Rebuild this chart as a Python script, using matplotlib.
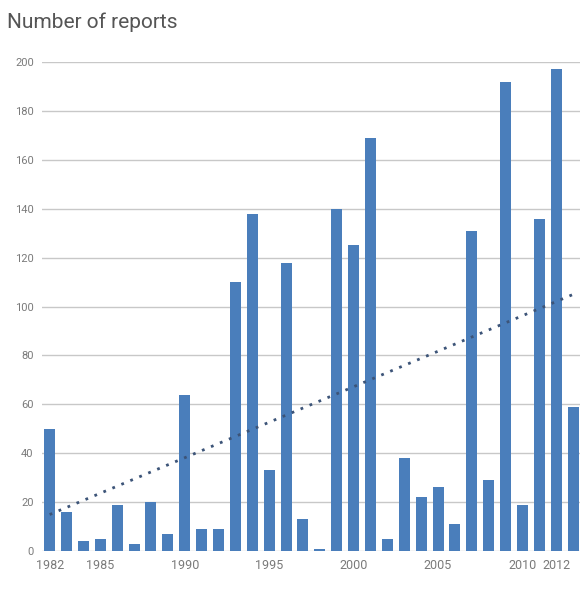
import numpy as np
import matplotlib
matplotlib.use("Agg")
import matplotlib.pyplot as plt

years = list(range(1982, 2014))
reports = [50, 16, 4, 5, 19, 3, 20, 7, 64, 9, 9, 110, 138, 33, 118, 13, 1,
           140, 125, 169, 5, 38, 22, 26, 11, 131, 29, 192, 19, 136, 197, 59]
xtick_years = [1982, 1985, 1990, 1995, 2000, 2005, 2010, 2012]
yticks = list(range(0, 201, 20))

plt.rcParams["font.family"] = ["Roboto", "DejaVu Sans"]

fig = plt.figure(figsize=(5.84, 5.93), dpi=100)
ax = fig.add_axes([0.072, 0.0708, 0.921, 0.8246])

ax.bar(years, reports, width=0.65, color="#4a7ebb", zorder=3)

# linear trend line
coef = np.polyfit(years, reports, 1)
trend = np.polyval(coef, years)
ax.plot(years, trend, linestyle=(0, (1, 2.5)), color="#3c5478", linewidth=2.0, zorder=4)

ax.set_xlim(1981.55, 2013.4)
ax.set_ylim(0, 200)
ax.set_yticks(yticks)
ax.set_xticks(xtick_years)
ax.grid(axis="y", color="#c8c8c8", linewidth=1, zorder=0)
ax.tick_params(axis="y", length=0, labelsize=8, colors="#7a7a7a", pad=6)
ax.tick_params(axis="x", length=0, labelsize=9, colors="#7a7a7a", pad=6)
for s in ax.spines.values():
    s.set_visible(False)

fig.text(0.012, 0.962, "Number of reports", fontsize=15, color="#555555",
         ha="left", va="center")

fig.savefig("out.png", dpi=100)
